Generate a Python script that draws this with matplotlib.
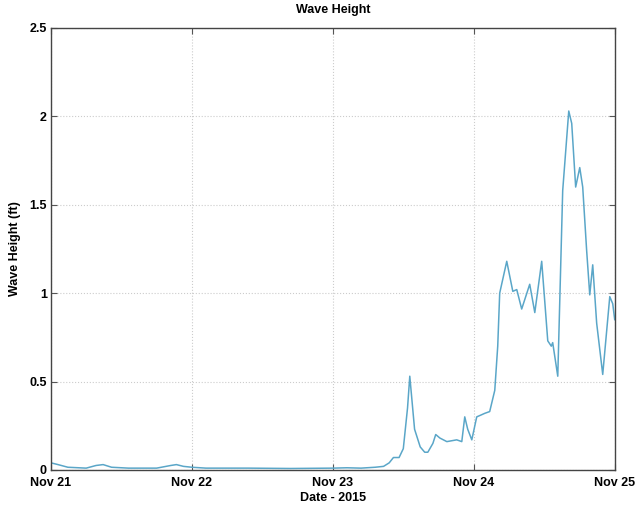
import datetime as dt

import matplotlib
matplotlib.use('Agg')
import matplotlib.pyplot as plt
import matplotlib.dates as mdates

# Wave height record, days since Nov 21 2015 00:00 and height in feet
day_offsets = [
    0.00, 0.05, 0.12, 0.25, 0.32, 0.37, 0.43, 0.55, 0.75, 0.85, 0.89, 0.94,
    1.00, 1.10, 1.40, 1.70, 2.00, 2.10, 2.20, 2.30, 2.36, 2.40, 2.43, 2.47,
    2.50, 2.53, 2.546, 2.58, 2.62, 2.652, 2.674, 2.71, 2.73, 2.76, 2.809,
    2.879, 2.915, 2.936, 2.957, 2.986, 3.021, 3.05, 3.078, 3.113, 3.149,
    3.17, 3.184, 3.234, 3.277, 3.305, 3.340, 3.397, 3.433, 3.482, 3.525,
    3.55, 3.560, 3.596, 3.631, 3.674, 3.695, 3.723, 3.752, 3.773, 3.801,
    3.823, 3.844, 3.872, 3.915, 3.965, 3.986, 4.00,
]
heights_ft = [
    0.04, 0.03, 0.015, 0.01, 0.025, 0.03, 0.015, 0.01, 0.01, 0.025, 0.03, 0.02,
    0.015, 0.01, 0.01, 0.008, 0.01, 0.012, 0.01, 0.015, 0.02, 0.04, 0.07, 0.07,
    0.12, 0.35, 0.53, 0.23, 0.13, 0.10, 0.10, 0.15, 0.20, 0.18, 0.16,
    0.17, 0.16, 0.30, 0.23, 0.17, 0.30, 0.31, 0.32, 0.33, 0.45,
    0.70, 1.00, 1.18, 1.01, 1.02, 0.91, 1.05, 0.89, 1.18, 0.73,
    0.70, 0.72, 0.53, 1.58, 2.03, 1.96, 1.60, 1.71, 1.60, 1.24,
    0.99, 1.16, 0.83, 0.54, 0.98, 0.94, 0.85,
]
y_ticks = [0, 0.5, 1, 1.5, 2, 2.5]
y_tick_labels = ['0', '0.5', '1', '1.5', '2', '2.5']
x_tick_days = [21, 22, 23, 24, 25]

start = dt.datetime(2015, 11, 21)
times = [start + dt.timedelta(days=d) for d in day_offsets]

plt.rcParams['font.family'] = ['Liberation Sans', 'DejaVu Sans']
plt.rcParams['font.weight'] = 'bold'
plt.rcParams['font.size'] = 9

fig = plt.figure(figsize=(6.37, 5.08), dpi=100)
ax = fig.add_axes([0.080, 0.075, 0.885, 0.870])

ax.plot(times, heights_ft, color='#5aa6c8', linewidth=1.1)

ax.set_xlim(dt.datetime(2015, 11, 21), dt.datetime(2015, 11, 25))
ax.set_ylim(0, 2.5)
ax.set_yticks(y_ticks)
ax.set_yticklabels(y_tick_labels)
ax.set_xticks([dt.datetime(2015, 11, d) for d in x_tick_days])
ax.xaxis.set_major_formatter(mdates.DateFormatter('%b %d'))

ax.grid(True, linestyle=':', color='#cccccc', linewidth=0.8)
ax.tick_params(direction='in', length=4, top=True, right=True,
               color='#555555')
ax.tick_params(axis='x', pad=5)
ax.tick_params(axis='y', pad=3)
for spine in ax.spines.values():
    spine.set_color('#444444')
    spine.set_linewidth(1.0)

ax.set_title('Wave Height', fontsize=9, fontweight='bold', pad=11)
ax.set_xlabel('Date - 2015', fontsize=9, fontweight='bold', labelpad=2)
ax.set_ylabel('Wave Height (ft)', fontsize=9, fontweight='bold', labelpad=6)

fig.savefig('out.png', dpi=100, facecolor='white')
plt.close(fig)
